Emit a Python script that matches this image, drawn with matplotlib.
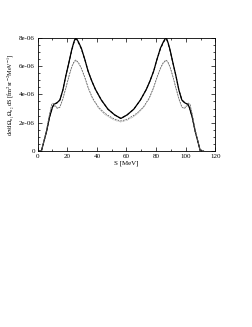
import matplotlib
matplotlib.use("Agg")
import matplotlib.pyplot as plt
from matplotlib.ticker import MultipleLocator, FuncFormatter

plt.rcParams["mathtext.fontset"] = "stix"

S_full = [0, 2.5, 4, 6, 8, 10, 11, 13, 15, 17, 19, 21, 23, 24.2, 25.0, 25.7, 26.5, 27.5, 29.5, 32, 34, 36.5, 39, 43, 47.5, 52, 56.2,
          60.4, 64.9, 69.4, 73.4, 75.9, 78.4, 80.4, 82.9, 84.9, 85.9, 86.7, 87.4, 88.2, 89.4, 91.4, 93.4, 95.4, 97.4, 99.4,
          101.4, 102.4, 104.4, 106.4, 108.4, 109.9, 112]
full = [0, 0, 0.6, 1.4, 2.4, 3.1, 3.3, 3.4, 3.6, 4.3, 5.3, 6.2, 7.15, 7.6, 7.85, 7.95, 7.88, 7.7, 7.25, 6.4, 5.65, 4.95, 4.35, 3.6, 2.95, 2.55, 2.3,
        2.55, 2.95, 3.6, 4.35, 4.95, 5.65, 6.4, 7.25, 7.7, 7.88, 7.95, 7.85, 7.6, 7.15, 6.2, 5.3, 4.3, 3.6, 3.4,
        3.3, 3.1, 2.4, 1.4, 0.6, 0, 0]
alt = [0, 0, 0.6, 1.4, 2.4, 3.1, 3.3, 3.4, 3.6, 4.3, 5.3, 6.2, 7.1, 7.55, 7.8, 7.9, 7.83, 7.65, 7.2, 6.4, 5.65, 4.95, 4.35, 3.6, 2.95, 2.55, 2.3,
       2.55, 2.95, 3.6, 4.35, 4.95, 5.65, 6.4, 7.2, 7.65, 7.83, 7.9, 7.8, 7.55, 7.1, 6.2, 5.3, 4.3, 3.6, 3.4,
       3.3, 3.1, 2.4, 1.4, 0.6, 0, 0]

S_low = [0, 2.5, 4, 6, 8, 9.5, 10.5, 12, 13.5, 15, 17, 19, 21, 23, 24.5, 25.7, 27.5, 29.5, 32, 34.2, 37, 41, 45, 47.7, 52, 56.2,
         60.4, 64.7, 67.4, 71.4, 75.4, 78.2, 80.4, 82.9, 84.9, 86.7, 87.9, 89.4, 91.4, 93.4, 95.4, 97.4, 98.9,
         100.4, 101.9, 102.9, 104.4, 106.4, 108.4, 109.9, 112]
lower = [0, 0, 0.65, 1.5, 2.6, 3.3, 3.35, 3.1, 3.0, 3.1, 3.7, 4.45, 5.25, 5.95, 6.3, 6.42, 6.25, 5.85, 5.15, 4.45, 3.75, 3.1, 2.7, 2.5, 2.25, 2.12,
         2.25, 2.5, 2.7, 3.1, 3.75, 4.45, 5.15, 5.85, 6.25, 6.42, 6.3, 5.95, 5.25, 4.45, 3.7, 3.1, 3.0,
         3.1, 3.35, 3.3, 2.6, 1.5, 0.65, 0, 0]
lower2 = [0, 0, 0.65, 1.5, 2.6, 3.3, 3.4, 3.2, 3.05, 3.1, 3.65, 4.4, 5.2, 5.9, 6.25, 6.38, 6.2, 5.8, 5.1, 4.4, 3.7, 3.05, 2.62, 2.42, 2.17, 2.05,
          2.17, 2.42, 2.62, 3.05, 3.7, 4.4, 5.1, 5.8, 6.2, 6.38, 6.25, 5.9, 5.2, 4.4, 3.65, 3.1, 3.05,
          3.2, 3.4, 3.3, 2.6, 1.5, 0.65, 0, 0]

scale = 1e-6
fig = plt.figure(figsize=(2.53, 3.27), dpi=100)
ax = fig.add_axes([0.149, 0.538, 0.702, 0.347])
ax.plot(S_full, [v * scale for v in full], color="black", lw=0.9)
ax.plot(S_full, [v * scale for v in alt], color="black", lw=0.7, ls=(0, (3, 2)))
ax.plot(S_low, [v * scale for v in lower], color="#444444", lw=0.5, ls=(0, (2.5, 1.5)))
ax.plot(S_low, [v * scale for v in lower2], color="#888888", lw=0.5, ls=(0, (1, 1)))

ax.set_xlim(0, 120)
ax.set_ylim(0, 8e-6)
ax.xaxis.set_major_locator(MultipleLocator(20))
ax.xaxis.set_minor_locator(MultipleLocator(10))
ax.yaxis.set_major_locator(MultipleLocator(2e-6))
ax.yaxis.set_minor_locator(MultipleLocator(5e-7))

def yfmt(v, p):
    if abs(v) < 1e-12:
        return "0"
    return "%de-06" % round(v / 1e-6)
ax.yaxis.set_major_formatter(FuncFormatter(yfmt))
ax.tick_params(which="both", direction="in", top=True, right=True, labelsize=5, width=0.5, pad=2)
ax.tick_params(which="major", length=3)
ax.tick_params(which="minor", length=1.5)
for sp in ax.spines.values():
    sp.set_linewidth(0.6)
for lab in ax.get_xticklabels() + ax.get_yticklabels():
    lab.set_family("Liberation Serif")
ax.set_xlabel("S [MeV]", fontsize=5, family="Liberation Serif", labelpad=1)
ax.set_ylabel(r"d$\sigma$/d$\Omega_{n_1}\Omega_{n_2}$ dS [fm$^2$sr$^{-2}$MeV$^{-1}$]",
              fontsize=4.5, family="Liberation Serif", labelpad=2)
fig.savefig("out.png", dpi=100)
